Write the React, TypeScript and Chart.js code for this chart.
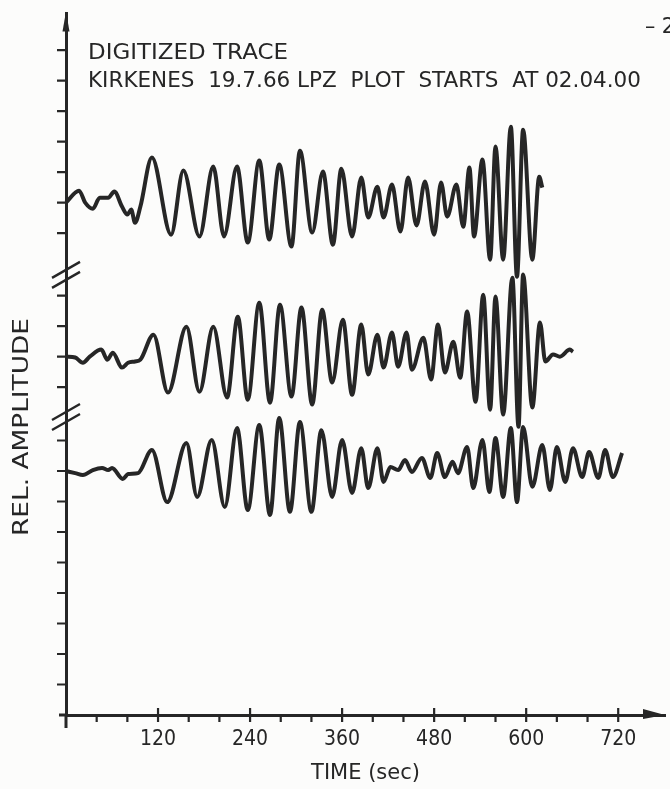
import React, { useEffect, useRef } from 'react';
import { Chart, registerables } from 'chart.js';

Chart.register(...registerables);

// ---- axis data ----
const X_MAX = 781;
const Y_MAX = 23;
const xMajorTicks = [120, 240, 360, 480, 600, 720];
const xMinorStep = 40;
const yTickValues = [1, 2, 3, 4, 5, 6, 7, 8, 9, 10.75, 11.75, 12.75, 13.75, 15.8, 16.8, 17.8, 18.8, 19.8, 20.8, 21.8];
const yBreaks = [14.43, 9.77];

// ---- trace baselines (relative amplitude offsets) ----
const BASE1 = 16.8;
const BASE2 = 11.75;
const BASE3 = 8.0;

// ---- trace 1 ----
const t1 = [0, 17, 25, 35, 44, 55, 63, 73, 80, 85, 90, 97, 112, 137, 153, 174, 192, 206, 223, 237, 252, 265, 278, 294, 305, 321, 335, 348, 359, 373, 385, 394, 406, 414, 425, 436, 446, 457, 468, 480, 489, 497, 509, 518, 526, 532, 543, 553, 560, 570, 580, 588, 596, 608, 617, 621];
const a1 = [0, 0.39, 0, -0.2, 0.16, 0.16, 0.36, -0.13, -0.39, -0.23, -0.66, -0.13, 1.48, -1.05, 1.05, -1.11, 1.18, -1.11, 1.18, -1.31, 1.38, -1.21, 1.25, -1.44, 1.7, -0.98, 1.02, -1.38, 1.11, -1.11, 0.82, -0.49, 0.52, -0.49, 0.59, -0.95, 0.82, -0.75, 0.69, -1.05, 0.66, -0.46, 0.59, -0.79, 1.15, -1.11, 1.41, -1.87, 1.84, -1.87, 2.49, -2.43, 2.39, -1.87, 0.85, 0.49];

// ---- trace 2 ----
const t2 = [0, 12, 22, 31, 46, 54, 61, 73, 81, 90, 97, 114, 133, 157, 174, 192, 210, 224, 237, 252, 266, 279, 294, 307, 321, 334, 347, 361, 373, 385, 394, 406, 414, 425, 433, 444, 451, 466, 476, 485, 494, 505, 514, 523, 534, 544, 553, 560, 570, 582, 590, 596, 608, 618, 625, 635, 644, 657, 661];
const a2 = [0, -0.03, -0.2, 0, 0.23, -0.1, 0.13, -0.36, -0.2, -0.16, -0.1, 0.72, -1.18, 0.98, -1.15, 0.98, -1.34, 1.31, -1.41, 1.77, -1.51, 1.7, -1.31, 1.61, -1.57, 1.54, -0.85, 1.21, -1.25, 1.05, -0.59, 0.72, -0.36, 0.79, -0.33, 0.79, -0.43, 0.62, -0.75, 1.05, -0.52, 0.49, -0.69, 1.48, -1.48, 2.03, -1.74, 1.97, -1.9, 2.59, -2.3, 2.69, -1.67, 1.12, -0.16, 0.07, 0, 0.23, 0.16];

// ---- trace 3 ----
const t3 = [0, 12, 22, 35, 47, 55, 60, 74, 81, 94, 112, 132, 157, 171, 190, 207, 223, 237, 252, 266, 278, 292, 305, 320, 333, 347, 360, 373, 385, 394, 406, 414, 423, 433, 442, 451, 464, 475, 484, 494, 504, 511, 523, 531, 543, 552, 560, 570, 580, 588, 596, 608, 621, 631, 640, 651, 661, 673, 682, 694, 703, 713, 725];
const a3 = [0, -0.07, -0.13, 0.03, 0.1, 0.03, 0.1, -0.26, -0.1, -0.07, 0.69, -1.02, 0.92, -0.85, 1.02, -1.18, 1.41, -1.28, 1.51, -1.44, 1.74, -1.34, 1.61, -1.34, 1.34, -0.85, 1.02, -0.72, 0.75, -0.56, 0.75, -0.36, 0.13, 0.03, 0.36, -0.03, 0.43, -0.23, 0.59, -0.2, 0.3, -0.07, 0.79, -0.56, 1.02, -0.69, 1.08, -0.85, 1.41, -1.02, 1.44, -0.52, 0.85, -0.62, 0.79, -0.36, 0.75, -0.2, 0.62, -0.23, 0.69, -0.2, 0.59];

// ---- texts ----
const TITLE_1 = 'DIGITIZED TRACE';
const TITLE_2 = 'KIRKENES  19.7.66 LPZ  PLOT  STARTS  AT 02.04.00';
const X_TITLE = 'TIME (sec)';
const Y_TITLE = 'REL. AMPLITUDE';
const PAGE_MARK = '– 2';

const INK = '#262626';
const TEXT_FONT = '"DejaVu Sans", sans-serif';

function toPoints(t: number[], a: number[], base: number) {
  return t.map((v, i) => ({ x: v, y: base + a[i] }));
}

function fitText(ctx: CanvasRenderingContext2D, text: string, x: number, y: number, width: number, size: number, rotate = false) {
  ctx.save();
  ctx.font = `${size}px ${TEXT_FONT}`;
  const m = ctx.measureText(text).width;
  ctx.translate(x, y);
  if (rotate) ctx.rotate(-Math.PI / 2);
  ctx.scale(width / m, 1);
  ctx.textBaseline = 'middle';
  ctx.textAlign = rotate ? 'center' : 'left';
  ctx.fillStyle = INK;
  ctx.fillText(text, 0, 0);
  ctx.restore();
}

const decorPlugin = {
  id: 'decor',
  beforeDraw(chart: any) {
    const { ctx, width, height } = chart;
    ctx.save();
    ctx.fillStyle = '#fcfcfb';
    ctx.fillRect(0, 0, width, height);
    ctx.restore();
  },
  afterDraw(chart: any) {
    const { ctx, chartArea } = chart;
    const xs = chart.scales.x;
    const ys = chart.scales.y;
    const x0 = xs.getPixelForValue(0);
    const y0 = ys.getPixelForValue(0);
    ctx.save();
    ctx.strokeStyle = INK;
    ctx.fillStyle = INK;
    ctx.lineCap = 'butt';
    // axis extensions
    ctx.lineWidth = 3;
    ctx.beginPath();
    ctx.moveTo(x0 - 7, y0);
    ctx.lineTo(x0, y0);
    ctx.moveTo(x0, y0);
    ctx.lineTo(x0, y0 + 13);
    ctx.stroke();
    // x ticks
    ctx.lineWidth = 2.2;
    ctx.beginPath();
    for (let v = xMinorStep; v <= 720; v += xMinorStep) {
      const px = xs.getPixelForValue(v);
      const major = xMajorTicks.includes(v);
      ctx.moveTo(px, major ? y0 - 7 : y0);
      ctx.lineTo(px, y0 + 7);
    }
    ctx.stroke();
    // y ticks
    ctx.beginPath();
    for (const v of yTickValues) {
      const py = ys.getPixelForValue(v);
      ctx.moveTo(x0 - 9, py);
      ctx.lineTo(x0, py);
    }
    ctx.stroke();
    // axis breaks
    ctx.lineWidth = 2.4;
    ctx.beginPath();
    for (const b of yBreaks) {
      const py = ys.getPixelForValue(b);
      for (const d of [-5, 5]) {
        ctx.moveTo(x0 - 14, py + d + 8);
        ctx.lineTo(x0 + 14, py + d - 8);
      }
    }
    ctx.stroke();
    // arrows
    ctx.beginPath();
    ctx.moveTo(chartArea.right, y0);
    ctx.lineTo(chartArea.right - 22, y0 - 6);
    ctx.lineTo(chartArea.right - 22, y0 + 4);
    ctx.closePath();
    ctx.fill();
    ctx.beginPath();
    ctx.moveTo(x0, chartArea.top - 2);
    ctx.lineTo(x0 - 3.5, chartArea.top + 18);
    ctx.lineTo(x0 + 3.5, chartArea.top + 18);
    ctx.closePath();
    ctx.fill();
    ctx.restore();
    // texts
    fitText(ctx, TITLE_1, 88, 53, 200, 22);
    fitText(ctx, TITLE_2, 88, 81, 553, 22);
    fitText(ctx, Y_TITLE, 22, 427, 218, 22, true);
    fitText(ctx, PAGE_MARK, 645, 27, 30, 22);
  },
};

export default function App() {
  const ref = useRef<HTMLCanvasElement | null>(null);
  useEffect(() => {
    document.body.style.margin = '0';
    const canvas = ref.current;
    if (!canvas) return;
    const lineStyle = {
      borderColor: INK,
      borderWidth: 4,
      pointRadius: 0,
      fill: false,
      cubicInterpolationMode: 'monotone' as const,
      clip: false as any,
    };
    const chart = new Chart(canvas, {
      type: 'line',
      data: {
        datasets: [
          { label: 'trace 1', data: toPoints(t1, a1, BASE1), ...lineStyle },
          { label: 'trace 2', data: toPoints(t2, a2, BASE2), ...lineStyle },
          { label: 'trace 3', data: toPoints(t3, a3, BASE3), ...lineStyle },
        ],
      },
      options: {
        animation: false,
        responsive: false,
        events: [],
        layout: { padding: { left: 66, right: 5, top: 13.5, bottom: 0 } },
        plugins: { legend: { display: false }, tooltip: { enabled: false } },
        scales: {
          x: {
            type: 'linear',
            min: 0,
            max: X_MAX,
            afterFit: (s: any) => { s.height = 74; },
            afterBuildTicks: (s: any) => { s.ticks = xMajorTicks.map((v) => ({ value: v })); },
            grid: { display: false, drawTicks: false },
            border: { display: true, color: INK, width: 3 },
            ticks: {
              autoSkip: false,
              maxRotation: 0,
              padding: 12,
              color: INK,
              font: { family: '"Liberation Sans Narrow", "DejaVu Sans Condensed", "DejaVu Sans", sans-serif', size: 21 },
            },
            title: {
              display: true,
              text: X_TITLE,
              color: INK,
              padding: { top: 0, bottom: 3 },
              font: { family: TEXT_FONT, size: 21 },
            },
          },
          y: {
            type: 'linear',
            min: 0,
            max: Y_MAX,
            afterFit: (s: any) => { s.width = 0; },
            grid: { display: false, drawTicks: false },
            border: { display: true, color: INK, width: 3 },
            ticks: { display: false },
          },
        },
      },
      plugins: [decorPlugin],
    });
    return () => chart.destroy();
  }, []);
  return (
    <div style={{ position: 'absolute', left: 0, top: 0, width: 670, height: 789 }}>
      <canvas ref={ref} width={670} height={789} style={{ display: 'block' }} />
    </div>
  );
}
